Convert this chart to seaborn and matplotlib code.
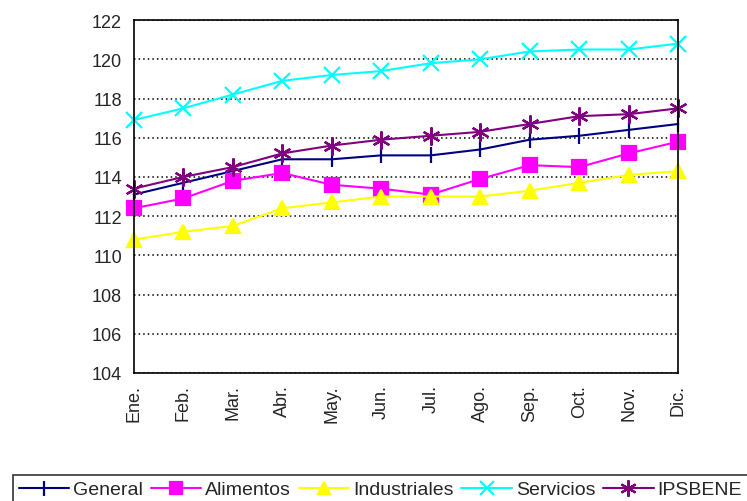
import pandas as pd
import matplotlib.pyplot as plt
import seaborn as sns

months = ["Ene.", "Feb.", "Mar.", "Abr.", "May.", "Jun.", "Jul.", "Ago.", "Sep.", "Oct.", "Nov.", "Dic."]

general = [113.1, 113.7, 114.3, 114.9, 114.9, 115.1, 115.1, 115.4, 115.9, 116.1, 116.4, 116.7]
alimentos = [112.4, 112.9, 113.8, 114.2, 113.6, 113.4, 113.1, 113.9, 114.6, 114.5, 115.2, 115.8]
industriales = [110.8, 111.2, 111.5, 112.4, 112.7, 113.0, 113.0, 113.0, 113.3, 113.7, 114.1, 114.3]
servicios = [116.9, 117.5, 118.2, 118.9, 119.2, 119.4, 119.8, 120.0, 120.4, 120.5, 120.5, 120.8]
ipsbene = [113.4, 114.0, 114.5, 115.2, 115.6, 115.9, 116.1, 116.3, 116.7, 117.1, 117.2, 117.5]

series = ["General", "Alimentos", "Industriales", "Servicios", "IPSBENE"]
values = [general, alimentos, industriales, servicios, ipsbene]

rows = []
for name, vals in zip(series, values):
    for m, v in zip(months, vals):
        rows.append({"mes": m, "valor": v, "serie": name})
df = pd.DataFrame(rows)

colors = {"General": "#000080", "Alimentos": "#FF00FF", "Industriales": "#FFFF00",
          "Servicios": "#00FFFF", "IPSBENE": "#800080"}
markers = {"General": "|", "Alimentos": "s", "Industriales": "^",
           "Servicios": "x", "IPSBENE": (6, 2, 0)}
msize = {"General": 12, "Alimentos": 10, "Industriales": 10, "Servicios": 11, "IPSBENE": 13}

sns.set_style("white")
plt.rcParams["font.family"] = ["Liberation Sans", "DejaVu Sans"]

fig = plt.figure(figsize=(7.47, 5.02), dpi=100)
ax = fig.add_axes([0.179, 0.255, 0.729, 0.703])

for name in series:
    sub = df[df["serie"] == name]
    sns.lineplot(data=sub, x="mes", y="valor", sort=False, ax=ax, color=colors[name],
                 marker=markers[name], markersize=msize[name], markeredgewidth=1.6,
                 markeredgecolor=colors[name], linewidth=1.5, label=name, clip_on=False)

ax.set_ylim(104, 122)
ax.set_xlim(0, 11)
ax.set_yticks(range(104, 123, 2))
ax.set_xlabel("")
ax.set_ylabel("")
ax.yaxis.grid(True, color="black", linestyle=(0, (1, 2)), linewidth=1.1)
ax.xaxis.grid(False)
for s in ax.spines.values():
    s.set_color("black")
    s.set_linewidth(1.2)
ax.tick_params(axis="y", direction="out", length=5, width=1.2, labelsize=13, color="black")
ax.tick_params(axis="x", direction="inout", length=9, width=1.2, labelsize=13, color="black",
               rotation=90)

handles, labels = ax.get_legend_handles_labels()
ax.get_legend().remove()
leg = fig.legend(handles, labels, loc="upper left", bbox_to_anchor=(0.017, 0.052),
                 ncol=5, fontsize=14, frameon=True, fancybox=False, edgecolor="black",
                 handlelength=2.6, handletextpad=0.2, columnspacing=0.4, borderpad=0.3,
                 borderaxespad=0, markerscale=0.9)
leg.get_frame().set_linewidth(1.2)

fig.savefig("out.png", dpi=100)
